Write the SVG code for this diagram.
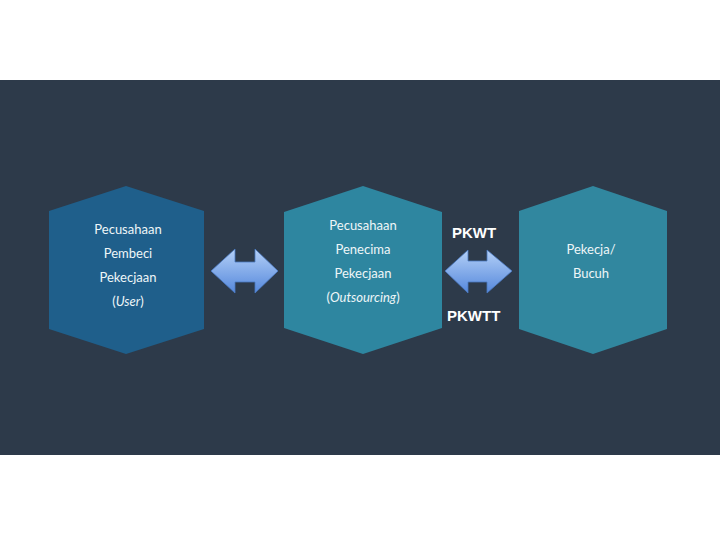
<svg xmlns="http://www.w3.org/2000/svg" width="720" height="540" viewBox="0 0 720 540">
<defs>
<linearGradient id="ag" x1="0" y1="0" x2="0" y2="1">
<stop offset="0" stop-color="#b4d0f7"/>
<stop offset="1" stop-color="#5588dc"/>
</linearGradient>
<style>
.t{font-family:"Lato","Liberation Sans",sans-serif;font-size:13px;fill:#eef6f8;text-anchor:middle}
.i{font-style:italic}
.l{font-family:"Liberation Sans",Arial,sans-serif;font-size:15px;font-weight:bold;fill:#ffffff}
.ar{fill:url(#ag);stroke:#4a78c0;stroke-width:0.8}
</style>
</defs>
<rect x="0" y="0" width="720" height="540" fill="#ffffff"/>
<rect x="0" y="80" width="720" height="375" fill="#2d3a4a"/>
<g id="node-user">
<polygon points="126,186 204,211 204,329 126,354 49,329 49,211" fill="#1f5f8b"/>
<text class="t" x="128" y="234">Pecusahaan</text>
<text class="t" x="128" y="258">Pembeci</text>
<text class="t" x="128" y="282">Pekecjaan</text>
<text class="t" x="128" y="306">(<tspan class="i">User</tspan>)</text>
</g>
<g id="node-outsourcing">
<polygon points="363,186 442,212 442,328 363,354 284,328 284,212" fill="#2e86a0"/>
<text class="t" x="363" y="230">Pecusahaan</text>
<text class="t" x="363" y="254">Penecima</text>
<text class="t" x="363" y="278">Pekecjaan</text>
<text class="t" x="363" y="302">(<tspan class="i">Outsourcing</tspan>)</text>
</g>
<g id="node-buruh">
<polygon points="593,186 667,211 667,329 593,354 519,329 519,211" fill="#31879f"/>
<text class="t" x="591" y="254">Pekecja/</text>
<text class="t" x="591" y="278">Bucuh</text>
</g>
<g id="connectors">
<polygon class="ar" points="211,271 235,249 235,262 255,262 255,249 278,271 255,293 255,282 235,282 235,293"/>
<polygon class="ar" points="445,271 468,250 468,261 487,261 487,250 512,271 487,293 487,282 468,282 468,293"/>
<text class="l" x="452" y="238">PKWT</text>
<text class="l" x="447" y="321">PKWTT</text>
</g>
</svg>
